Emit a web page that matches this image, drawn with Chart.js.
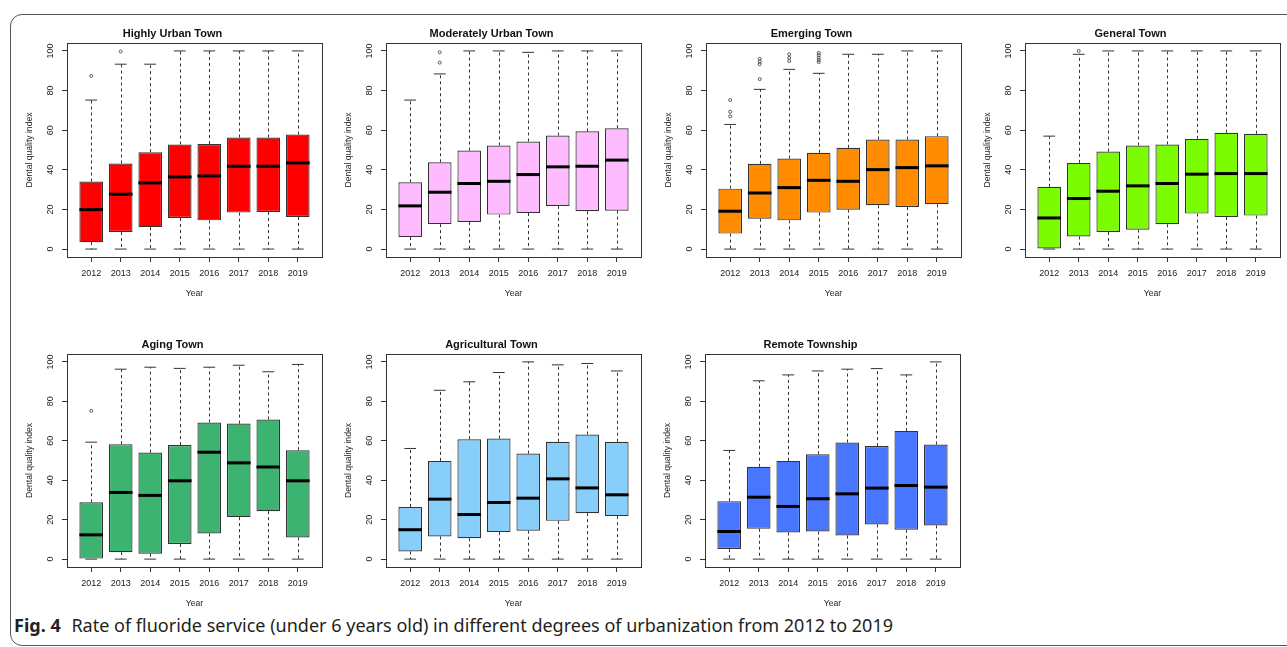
<!DOCTYPE html>
<html>
<head>
<meta charset="utf-8">
<script src="https://cdn.jsdelivr.net/npm/chart.js@4.4.0/dist/chart.umd.min.js"></script>
<style>
  html, body { margin: 0; padding: 0; background: #fff; width: 1287px; height: 647px; overflow: hidden; }
  #frame { position: absolute; left: 10px; top: 14px; width: 1300px; height: 632px; border: 1px solid #555; border-radius: 12px; box-sizing: border-box; }
  canvas.panel { position: absolute; }
  #caption { position: absolute; left: 14px; top: 613px; font-family: "Noto Sans", "Open Sans", sans-serif; font-size: 18px; color: #231f20; white-space: nowrap; transform-origin: 0 0; }
  #caption b { font-weight: bold; margin-right: 6px; }
</style>
</head>
<body>
<div id="frame"></div>
<div id="caption"><b>Fig. 4</b> Rate of fluoride service (under 6 years old) in different degrees of urbanization from 2012 to 2019</div>
<script>
var years = ['2012', '2013', '2014', '2015', '2016', '2017', '2018', '2019'];
var townNames = ['Highly Urban Town', 'Moderately Urban Town', 'Emerging Town', 'General Town',
                 'Aging Town', 'Agricultural Town', 'Remote Township'];
var boxColors = ['#FF0000', '#FFBBFF', '#FF8C00', '#7CFC00', '#3CB371', '#87CEFA', '#4876FF'];
var yTicks = [0, 20, 40, 60, 80, 100];

// one row per town, one value per year
var lowerQ = [
  [3.5, 8.6, 11.1, 15.7, 14.5, 18.4, 18.7, 16.2],
  [6.1, 12.6, 13.7, 17.4, 18.2, 21.8, 19.1, 19.4],
  [7.8, 15.3, 14.5, 18.4, 19.9, 22.1, 21.2, 22.6],
  [0, 6.4, 8.6, 9.8, 12.5, 17.9, 16.2, 16.9],
  [0, 3.5, 2.7, 7.7, 13.0, 21.3, 24.3, 11.0],
  [3.9, 11.5, 10.6, 13.7, 14.4, 19.4, 23.3, 21.8],
  [5.1, 15.4, 13.5, 14.0, 12.0, 17.6, 14.9, 17.1]
];
var medians = [
  [19.9, 27.7, 33.4, 36.4, 36.9, 41.8, 41.8, 43.5],
  [21.8, 28.7, 33.1, 34.2, 37.6, 41.5, 41.8, 44.9],
  [19.1, 28.3, 31.0, 34.7, 34.2, 40.1, 41.1, 42.0],
  [15.7, 25.5, 29.2, 31.9, 33.1, 37.8, 38.1, 38.1],
  [12.3, 33.8, 32.3, 39.7, 54.2, 48.8, 46.7, 39.7],
  [14.9, 30.4, 22.6, 28.7, 30.9, 40.7, 36.1, 32.6],
  [14.0, 31.4, 26.7, 30.6, 33.1, 36.0, 37.3, 36.5]
];
var upperQ = [
  [34.1, 43.2, 48.9, 52.8, 53.0, 56.3, 56.3, 57.8],
  [33.7, 43.8, 49.7, 52.3, 54.3, 57.3, 59.4, 61.0],
  [30.5, 43.0, 45.7, 48.6, 51.1, 55.3, 55.3, 57.0],
  [31.4, 43.5, 49.2, 52.3, 52.8, 55.6, 58.7, 58.2],
  [28.8, 58.3, 54.0, 57.8, 69.3, 68.7, 70.8, 55.2],
  [26.4, 49.8, 60.8, 61.1, 53.5, 59.5, 63.2, 59.5],
  [29.4, 46.8, 49.8, 53.2, 59.1, 57.3, 65.0, 58.1]
];
var whiskerTop = [
  [75.2, 93.3, 93.3, 100, 100, 100, 100, 100],
  [75.2, 88.4, 100, 100, 99.3, 100, 100, 100],
  [62.9, 80.6, 90.7, 88.7, 98.3, 98.3, 100, 100],
  [57.0, 98.3, 100, 100, 100, 100, 100, 100],
  [59.3, 96.3, 97.3, 96.7, 97.3, 98.3, 95.0, 98.7],
  [56.1, 85.6, 89.9, 94.6, 100, 98.5, 99.2, 95.4],
  [55.1, 90.4, 93.4, 95.4, 96.3, 96.6, 93.4, 100]
];
var whiskerBottom = [
  [0, 0, 0, 0, 0, 0, 0, 0],
  [0, 0, 0, 0, 0, 0, 0, 0],
  [0, 0, 0, 0, 0, 0, 0, 0],
  [0, 0, 0, 0, 0, 0, 0, 0],
  [0, 0, 0, 0, 0, 0, 0, 0],
  [0, 0, 0, 0, 0, 0, 0, 0],
  [0, 0, 0, 0, 0, 0, 0, 0]
];
// outliers: year index and value
var outlierYear = [
  [0, 1],
  [1, 1],
  [0, 0, 0, 1, 1, 1, 1, 2, 2, 2, 3, 3, 3, 3, 3],
  [1],
  [0],
  [],
  []
];
var outlierValue = [
  [87.4, 99.7],
  [94.1, 99.3],
  [67.0, 69.3, 75.2, 85.8, 93.3, 94.6, 96.0, 94.9, 96.5, 98.3, 94.4, 95.5, 96.6, 97.8, 99.0],
  [100],
  [75.2],
  [],
  []
];

var panelLeft = [67, 386, 706, 1025, 67, 386, 705];
var panelTop = [43, 43, 43, 43, 354, 354, 354];

// whiskers, staples, medians, rotated y labels and the plot frame
var boxPlugin = {
  id: 'boxExtras',
  afterDatasetsDraw: function (chart) {
    var p = chart.options.townIndex;
    var ctx = chart.ctx;
    var ys = chart.scales.y;
    var bars = chart.getDatasetMeta(0).data;
    ctx.save();
    bars.forEach(function (bar, i) {
      var x = Math.round(bar.x) + 0.5;
      var half = bar.width / 2;
      var yq1 = ys.getPixelForValue(lowerQ[p][i]);
      var yq3 = ys.getPixelForValue(upperQ[p][i]);
      var yHi = ys.getPixelForValue(whiskerTop[p][i]);
      var yLo = ys.getPixelForValue(whiskerBottom[p][i]);
      ctx.strokeStyle = '#333';
      ctx.lineWidth = 1;
      ctx.setLineDash([3, 3]);
      ctx.beginPath();
      ctx.moveTo(x, yq3); ctx.lineTo(x, yHi);
      ctx.moveTo(x, yq1); ctx.lineTo(x, yLo);
      ctx.stroke();
      ctx.setLineDash([]);
      ctx.beginPath();
      ctx.moveTo(bar.x - half / 2, yHi); ctx.lineTo(bar.x + half / 2, yHi);
      ctx.moveTo(bar.x - half / 2, yLo); ctx.lineTo(bar.x + half / 2, yLo);
      ctx.stroke();
      var ym = ys.getPixelForValue(medians[p][i]);
      ctx.strokeStyle = '#000';
      ctx.lineWidth = 3;
      ctx.beginPath();
      ctx.moveTo(bar.x - half, ym); ctx.lineTo(bar.x + half, ym);
      ctx.stroke();
    });
    var a = chart.chartArea;
    ctx.strokeStyle = '#333';
    ctx.lineWidth = 1;
    ctx.strokeRect(Math.round(a.left) + 0.5, Math.round(a.top) + 0.5,
                   Math.round(a.right - a.left), Math.round(a.bottom - a.top));
    // R style y labels, read bottom to top
    ctx.fillStyle = '#222';
    ctx.font = '9px "Liberation Sans", Arial, sans-serif';
    ctx.textAlign = 'center';
    ctx.textBaseline = 'middle';
    ys.ticks.forEach(function (t) {
      ctx.save();
      ctx.translate(a.left - 16, ys.getPixelForValue(t.value));
      ctx.rotate(-Math.PI / 2);
      ctx.fillText(String(t.value), 0, 0);
      ctx.restore();
    });
    ctx.restore();
  }
};

var axisFont = { family: 'Liberation Sans, Arial, sans-serif', size: 9 };
var titleFont = { family: 'Liberation Sans, Arial, sans-serif', size: 8.6 };

function makePanel(p) {
  var plotW = 255, plotH = p < 4 ? 214 : 213;
  var yAxisW = 44, padR = 6, titleH = 20, xAxisH = 48;
  var cv = document.createElement('canvas');
  cv.className = 'panel';
  cv.width = yAxisW + plotW + padR;
  cv.height = titleH + plotH + xAxisH;
  cv.style.left = (panelLeft[p] - yAxisW) + 'px';
  cv.style.top = (panelTop[p] - titleH) + 'px';
  document.body.appendChild(cv);

  var boxes = years.map(function (y, i) {
    return { x: i + 1, y: [lowerQ[p][i], upperQ[p][i]] };
  });
  var outs = outlierYear[p].map(function (k, j) {
    return { x: k + 1, y: outlierValue[p][j] };
  });

  new Chart(cv, {
    data: {
      datasets: [{
        type: 'bar',
        data: boxes,
        backgroundColor: boxColors[p],
        borderColor: '#333',
        borderWidth: 1.2,
        borderSkipped: false,
        barPercentage: 0.8,
        categoryPercentage: 1
      }, {
        type: 'scatter',
        data: outs,
        pointRadius: 1.5,
        pointBorderWidth: 0.8,
        borderColor: '#333',
        backgroundColor: 'rgba(0,0,0,0)'
      }]
    },
    options: {
      townIndex: p,
      responsive: false,
      animation: false,
      devicePixelRatio: 1,
      layout: { padding: { left: 0, right: padR, top: 0, bottom: 0 }, autoPadding: false },
      plugins: {
        legend: { display: false },
        tooltip: { enabled: false },
        title: {
          display: true,
          text: townNames[p],
          color: '#111',
          font: { family: 'Liberation Sans, Arial, sans-serif', size: 11, weight: 'bold', lineHeight: 1.2 },
          padding: { top: titleH - 13.2 - 2, bottom: 2 }
        }
      },
      scales: {
        x: {
          type: 'linear',
          min: 0.18,
          max: 8.82,
          offset: false,
          afterBuildTicks: function (s) {
            s.ticks = years.map(function (y, i) { return { value: i + 1 }; });
          },
          afterFit: function (s) { s.height = xAxisH; },
          ticks: {
            callback: function (v) { return years[v - 1]; },
            color: '#222', font: axisFont, padding: 6, maxRotation: 0, autoSkip: false
          },
          grid: { drawOnChartArea: false, offset: false, tickLength: 5, color: '#333' },
          border: { display: false },
          title: { display: true, text: 'Year', color: '#222', font: titleFont, padding: 6 }
        },
        y: {
          min: -4,
          max: 104,
          afterBuildTicks: function (s) {
            s.ticks = yTicks.map(function (v) { return { value: v }; });
          },
          afterFit: function (s) { s.width = yAxisW; },
          ticks: { display: false },
          grid: { drawOnChartArea: false, tickLength: 5, color: '#333' },
          border: { display: false },
          title: { display: true, text: 'Dental quality index', color: '#222', font: titleFont, padding: 1.8 }
        }
      }
    },
    plugins: [boxPlugin]
  });
}

for (var p = 0; p < townNames.length; p++) {
  makePanel(p);
}

// fit the caption to the width it has in the figure
var cap = document.getElementById('caption');
var w = cap.getBoundingClientRect().width;
cap.style.transform = 'scaleX(' + (879 / w) + ')';
</script>
</body>
</html>
